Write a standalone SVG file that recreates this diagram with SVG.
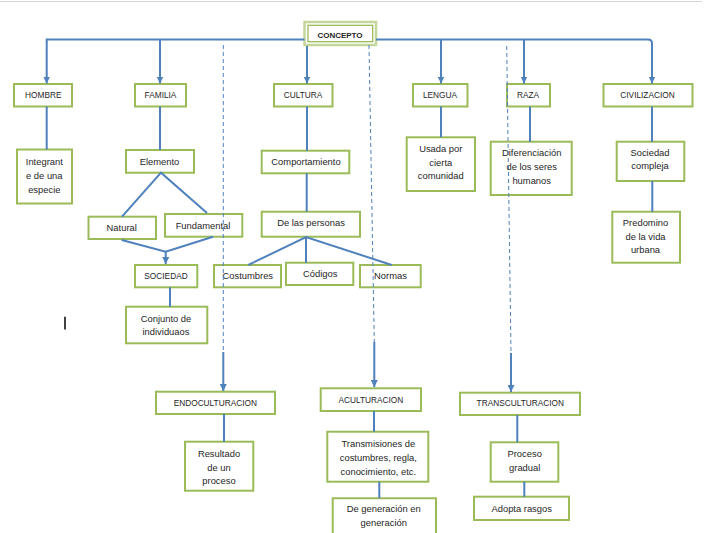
<svg xmlns="http://www.w3.org/2000/svg" width="710" height="533" viewBox="0 0 710 533">
<defs>
<style>
.b{fill:#fff;stroke:#9bbb59;stroke-width:2}
.t{font-family:"Liberation Sans",Arial,sans-serif;font-size:9.4px;fill:#262626;text-anchor:middle}
.c{font-family:"Liberation Sans",Arial,sans-serif;font-size:8.3px;fill:#262626;text-anchor:middle}
.l{fill:none;stroke:#4f81bd;stroke-width:2}
.d{fill:none;stroke:#4f81bd;stroke-width:1;stroke-dasharray:4 3}
</style>
<marker id="a" markerUnits="userSpaceOnUse" markerWidth="7" markerHeight="7" refX="7" refY="3.5" orient="auto"><path d="M0,0 L7,3.5 L0,7 z" fill="#4f81bd"/></marker>
</defs>
<rect width="710" height="533" fill="#fff"/>
<line x1="0" y1="1.5" x2="702" y2="1.5" stroke="#d3d7db" stroke-width="1"/>
<g id="nodes">
<g id="concepto"><rect x="304.5" y="22" width="71.5" height="23" fill="#fff" stroke="#c3d69b" stroke-width="2.5"/><rect x="308" y="25.3" width="64.7" height="16.4" fill="#fff" stroke="#9bbb59" stroke-width="1.3"/><text x="340" y="37.8" class="c" style="font-weight:bold;font-size:8px">CONCEPTO</text></g>
<g id="hombre"><rect class="b" x="14" y="84" width="58" height="22.5"/><text class="c" x="43.3" y="98.3">HOMBRE</text></g>
<g id="familia"><rect class="b" x="135" y="84" width="51" height="22.5"/><text class="c" x="160.5" y="98.3">FAMILIA</text></g>
<g id="cultura"><rect class="b" x="274" y="84" width="58.5" height="22.5"/><text class="c" x="303" y="98.3">CULTURA</text></g>
<g id="lengua"><rect class="b" x="413" y="84" width="54.5" height="22.5"/><text class="c" x="440" y="98.3">LENGUA</text></g>
<g id="raza"><rect class="b" x="507" y="84" width="43" height="22.5"/><text class="c" x="528" y="98.3">RAZA</text></g>
<g id="civilizacion"><rect class="b" x="603.5" y="84" width="89" height="22.5"/><text class="c" x="647.5" y="98.3">CIVILIZACION</text></g>
<g id="integrante"><rect class="b" x="17" y="149.5" width="55" height="54"/><text class="t" x="44.3" y="164.5">Integrant</text><text class="t" x="44.3" y="178.5">e de una</text><text class="t" x="44.3" y="192.5">especie</text></g>
<g id="elemento"><rect class="b" x="126" y="150" width="68" height="22.7"/><text class="t" x="159.5" y="164.5">Elemento</text></g>
<g id="natural"><rect class="b" x="88.5" y="216.7" width="67.5" height="22.3"/><text class="t" x="121.7" y="230.6">Natural</text></g>
<g id="fundamental"><rect class="b" x="165" y="214" width="77.3" height="22.7"/><text class="t" x="203" y="229">Fundamental</text></g>
<g id="sociedad"><rect class="b" x="135" y="265" width="62.3" height="22.3"/><text class="c" x="166" y="279">SOCIEDAD</text></g>
<g id="conjunto"><rect class="b" x="126" y="306.7" width="81.3" height="36.6"/><text class="t" x="166" y="321.6">Conjunto de</text><text class="t" x="166" y="335">individuaos</text></g>
<g id="comportamiento"><rect class="b" x="261.7" y="150.7" width="87.6" height="22.6"/><text class="t" x="306" y="165">Comportamiento</text></g>
<g id="personas"><rect class="b" x="261.7" y="211.7" width="98.3" height="25"/><text class="t" x="311" y="226">De las personas</text></g>
<g id="costumbres"><rect class="b" x="214" y="265" width="67" height="22.3"/><text class="t" x="247.8" y="279">Costumbres</text></g>
<g id="codigos"><rect class="b" x="286" y="262.7" width="67.3" height="22.3"/><text class="t" x="320.3" y="277.3">Códigos</text></g>
<g id="normas"><rect class="b" x="360" y="265" width="60.7" height="22.3"/><text class="t" x="390.5" y="279">Normas</text></g>
<g id="usada"><rect class="b" x="406.7" y="137.3" width="68.3" height="53.7"/><text class="t" x="440.8" y="152.3">Usada por</text><text class="t" x="440.8" y="165.6">cierta</text><text class="t" x="440.8" y="179">comunidad</text></g>
<g id="diferenciacion"><rect class="b" x="490.7" y="141.7" width="81" height="53.3"/><text class="t" x="531.7" y="156">Diferenciación</text><text class="t" x="531.7" y="170">de los seres</text><text class="t" x="531.7" y="184.3">humanos</text></g>
<g id="sociedadcompleja"><rect class="b" x="616.7" y="141.7" width="67.6" height="39.3"/><text class="t" x="650" y="155.6">Sociedad</text><text class="t" x="650" y="169.3">compleja</text></g>
<g id="predomino"><rect class="b" x="612.3" y="211.7" width="67.7" height="51"/><text class="t" x="645.5" y="226">Predomino</text><text class="t" x="645.5" y="240.3">de la vida</text><text class="t" x="645.5" y="253.3">urbana</text></g>
<g id="endoculturacion"><rect class="b" x="156" y="391.7" width="119" height="22.3"/><text class="c" x="215.3" y="406.3">ENDOCULTURACION</text></g>
<g id="resultado"><rect class="b" x="185" y="441.7" width="68.3" height="49"/><text class="t" x="219" y="456.6">Resultado</text><text class="t" x="219" y="470.6">de un</text><text class="t" x="219" y="484.3">proceso</text></g>
<g id="aculturacion"><rect class="b" x="320.7" y="388.3" width="100.3" height="22.7"/><text class="c" x="370.8" y="403">ACULTURACION</text></g>
<g id="transmisiones"><rect class="b" x="327.3" y="431.7" width="101" height="50"/><text class="t" x="378.3" y="446.6">Transmisiones de</text><text class="t" x="378.3" y="460.6">costumbres, regla,</text><text class="t" x="378.3" y="475">conocimiento, etc.</text></g>
<g id="generacion"><path d="M332.7,536 V498.3 H436 V536" class="b"/><text class="t" x="383.7" y="511.6">De generación en</text><text class="t" x="383.7" y="526">generación</text></g>
<g id="transculturacion"><rect class="b" x="460" y="392.7" width="120" height="22.3"/><text class="c" x="520.3" y="406.3">TRANSCULTURACION</text></g>
<g id="proceso"><rect class="b" x="490.7" y="442.3" width="67.6" height="39.4"/><text class="t" x="524.7" y="456.6">Proceso</text><text class="t" x="524.7" y="470.6">gradual</text></g>
<g id="adopta"><rect class="b" x="474" y="496.7" width="95" height="23.3"/><text class="t" x="521.7" y="511.6">Adopta rasgos</text></g>
</g>
<g id="connectors">
<path class="l" d="M304.5,39.5 H46.7 V83.5" marker-end="url(#a)"/>
<path class="l" d="M160,39.5 V83.5" marker-end="url(#a)"/>
<path class="l" d="M307,46 V83.5" marker-end="url(#a)"/>
<path class="l" d="M376,39.5 H648 Q652,39.5 652,43.5 V83.5" marker-end="url(#a)"/>
<path class="l" d="M441,39.5 V83.5" marker-end="url(#a)"/>
<path class="l" d="M524,39.5 V83.5" marker-end="url(#a)"/>
<path class="l" d="M46.7,106.5 V149.5"/>
<path class="l" d="M160,106.5 V150"/>
<path class="l" d="M307,106.5 V150.7"/>
<path class="l" d="M441,106.5 V137.3"/>
<path class="l" d="M530,106.5 V141.7"/>
<path class="l" d="M652,106.5 V141.7"/>
<path class="l" d="M122,216.7 L161,172.7 L207,213"/>
<path class="l" d="M121.7,240 L165.7,251.7 L213,236.7"/>
<path class="l" d="M165.7,251.7 V264" marker-end="url(#a)"/>
<path class="l" d="M170,287.3 V306.7"/>
<path class="l" d="M306.7,173.3 V211.7"/>
<path class="l" d="M248.3,265 L306,237 L391.7,265 M306,237 V262.7"/>
<path class="l" d="M652.3,181 V211.7"/>
<path class="d" d="M223.3,45 V352"/>
<path class="l" d="M223.3,352 V391" marker-end="url(#a)"/>
<path class="d" d="M369,45 L374.3,342"/>
<path class="l" d="M374.3,342 V387" marker-end="url(#a)"/>
<path class="d" d="M506.7,46 L511,353"/>
<path class="l" d="M511,353 V392" marker-end="url(#a)"/>
<path class="l" d="M224,414 V441.7"/>
<path class="l" d="M374,411 V431.7"/>
<path class="l" d="M379.3,481.7 V498.3"/>
<path class="l" d="M517.3,415 V442.3"/>
<path class="l" d="M524.3,481.7 V496.7"/>
</g>
<line x1="65" y1="316.7" x2="65" y2="329.5" stroke="#111" stroke-width="1.6"/>
</svg>
